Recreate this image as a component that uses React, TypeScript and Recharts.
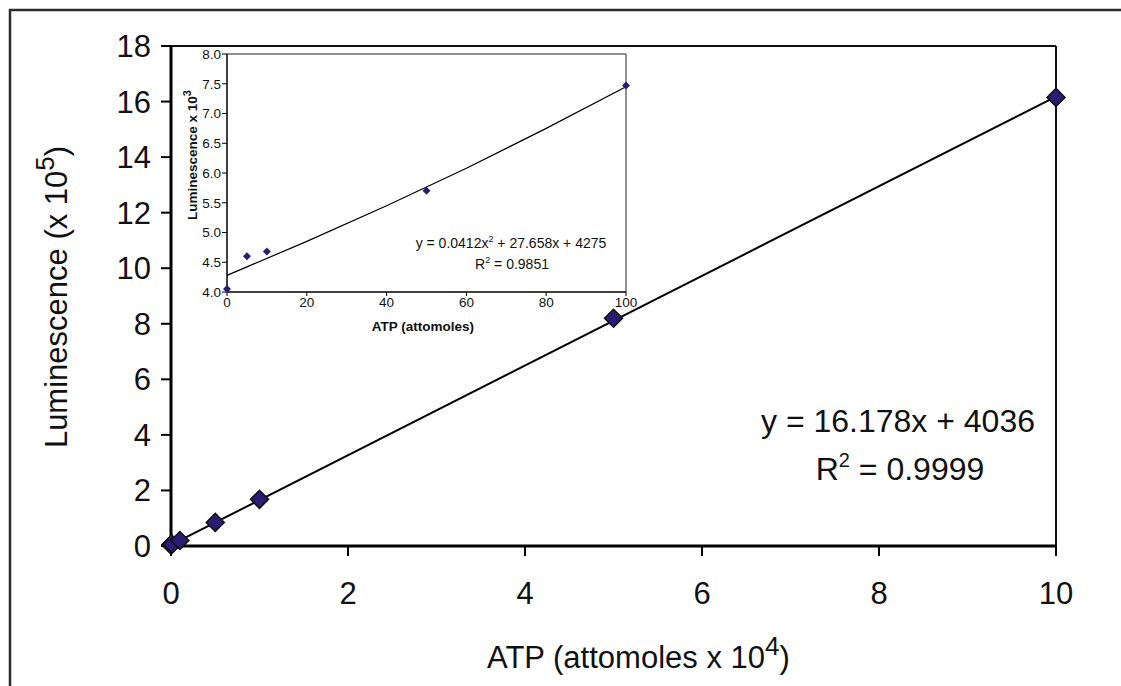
import React from "react";
import { ReferenceLine, Scatter, ScatterChart, XAxis, YAxis } from "recharts";

const FONT = '"Liberation Sans", Arial, sans-serif';
const MARK = "#2a1c72";

// main chart: ATP (attomoles x 10^4) vs luminescence (x 10^5)
const mainX = [0, 0.0005, 0.001, 0.005, 0.01, 0.1, 0.5, 1, 5, 10];
const mainY = [0.04, 0.046, 0.047, 0.057, 0.075, 0.2, 0.85, 1.68, 8.2, 16.15];
const mainTrendX = [0, 10];
const mainTrendY = [0.04, 16.18];
const mainXTicks = [0, 2, 4, 6, 8, 10];
const mainYTicks = [0, 2, 4, 6, 8, 10, 12, 14, 16, 18];

// inset: ATP (attomoles) vs luminescence (x 10^3)
const insetX = [0, 5, 10, 50, 100];
const insetY = [4.05, 4.6, 4.68, 5.7, 7.47];
const insetTrendX = [0, 20, 40, 60, 80, 100];
const insetTrendY = [4.28, 4.85, 5.45, 6.08, 6.75, 7.45];
const insetXTicks = [0, 20, 40, 60, 80, 100];
const insetYTicks = [4.0, 4.5, 5.0, 5.5, 6.0, 6.5, 7.0, 7.5, 8.0];

const zip = (xs: number[], ys: number[]) => xs.map((x, i) => ({ x, y: ys[i] }));

const mainData = zip(mainX, mainY);
const mainTrend = zip(mainTrendX, mainTrendY);
const insetData = zip(insetX, insetY);
const insetTrend = zip(insetTrendX, insetTrendY);

const diamond = (r: number, stroke?: string) => (props: any) => {
  const { cx, cy } = props;
  if (cx == null || cy == null) return <g />;
  return (
    <path
      d={`M${cx},${cy - r}L${cx + r},${cy}L${cx},${cy + r}L${cx - r},${cy}Z`}
      fill={MARK}
      stroke={stroke ?? "none"}
      strokeWidth={stroke ? 1.5 : 0}
    />
  );
};

const noDot = () => <g />;

export default function App() {
  return (
    <div style={{ position: "absolute", left: 0, top: 0, width: 1121, height: 686, background: "#fff", fontFamily: FONT }}>
      <div style={{ position: "absolute", left: 0, top: 0 }}>
        <ScatterChart width={1121} height={686} margin={{ top: 46, right: 65, bottom: 80, left: 71 }}>
          <XAxis
            type="number"
            dataKey="x"
            domain={[0, 10]}
            ticks={mainXTicks}
            height={60}
            tickSize={10}
            tickMargin={26}
            axisLine={{ stroke: "#000", strokeWidth: 3 }}
            tickLine={{ stroke: "#000", strokeWidth: 2 }}
            tick={{ fontSize: 31, fill: "#111", fontFamily: FONT }}
          />
          <YAxis
            type="number"
            dataKey="y"
            domain={[0, 18]}
            ticks={mainYTicks}
            width={100}
            tickSize={10}
            tickMargin={10}
            axisLine={{ stroke: "#000", strokeWidth: 3 }}
            tickLine={{ stroke: "#000", strokeWidth: 2 }}
            tick={{ fontSize: 31, fill: "#111", fontFamily: FONT }}
          />
          <ReferenceLine x={10} stroke="#111" strokeWidth={2} />
          <ReferenceLine y={18} stroke="#111" strokeWidth={2} />
          <Scatter data={mainTrend} line={{ stroke: "#000", strokeWidth: 2 }} shape={noDot} isAnimationActive={false} />
          <Scatter data={mainData} shape={diamond(9, "#111")} isAnimationActive={false} />
        </ScatterChart>
      </div>

      <div style={{ position: "absolute", left: 160, top: 40 }}>
        <ScatterChart width={480} height={300} margin={{ top: 14, right: 14, bottom: 28, left: 27 }}>
          <XAxis
            type="number"
            dataKey="x"
            domain={[0, 100]}
            ticks={insetXTicks}
            height={20}
            tickSize={4}
            tickMargin={1}
            axisLine={{ stroke: "#000", strokeWidth: 1.5 }}
            tickLine={{ stroke: "#000" }}
            tick={{ fontSize: 13.5, fill: "#111", fontFamily: FONT }}
          />
          <YAxis
            type="number"
            dataKey="y"
            domain={[4, 8]}
            ticks={insetYTicks}
            tickFormatter={(v: number) => v.toFixed(1)}
            width={40}
            tickSize={5}
            tickMargin={1}
            axisLine={{ stroke: "#000", strokeWidth: 1.5 }}
            tickLine={{ stroke: "#000" }}
            tick={{ fontSize: 13.5, fill: "#111", fontFamily: FONT }}
          />
          <ReferenceLine x={100} stroke="#222" strokeWidth={1} />
          <ReferenceLine y={8} stroke="#222" strokeWidth={1} />
          <Scatter data={insetTrend} line={{ stroke: "#000", strokeWidth: 1.2 }} shape={noDot} isAnimationActive={false} />
          <Scatter data={insetData} shape={diamond(4)} isAnimationActive={false} />
        </ScatterChart>
      </div>

      <svg width={1121} height={686} style={{ position: "absolute", left: 0, top: 0, pointerEvents: "none" }} fontFamily={FONT}>
        <path d="M10,686V10H1121" fill="none" stroke="#2b2b2b" strokeWidth={2.5} />

        {/* main axis titles */}
        <text x={487} y={668} fontSize={31} fill="#111">
          ATP (attomoles x 10<tspan dy={-13} fontSize={26}>4</tspan>
          <tspan dy={13} fontSize={31}>)</tspan>
        </text>
        <text transform="translate(67,297) rotate(-90)" textAnchor="middle" fontSize={31} fill="#111">
          Luminescence (x 10<tspan dy={-13} fontSize={26}>5</tspan>
          <tspan dy={13} fontSize={31}>)</tspan>
        </text>

        {/* main fit */}
        <text x={898} y={432} textAnchor="middle" fontSize={32} fill="#111">y = 16.178x + 4036</text>
        <text x={900} y={480} textAnchor="middle" fontSize={32} fill="#111">
          R<tspan dy={-13} fontSize={20}>2</tspan>
          <tspan dy={13}> = 0.9999</tspan>
        </text>

        {/* inset titles */}
        <text x={423} y={331} textAnchor="middle" fontSize={13.5} fontWeight="bold" fill="#111">ATP (attomoles)</text>
        <text transform="translate(197,155) rotate(-90)" textAnchor="middle" fontSize={13.5} fontWeight="bold" fill="#111">
          Luminescence x 10<tspan dy={-6} fontSize={11}>3</tspan>
        </text>

        {/* inset fit */}
        <text x={511} y={248} textAnchor="middle" fontSize={14} fill="#111">
          y = 0.0412x<tspan dy={-6} fontSize={9}>2</tspan>
          <tspan dy={6}> + 27.658x + 4275</tspan>
        </text>
        <text x={512} y={269} textAnchor="middle" fontSize={14} fill="#111">
          R<tspan dy={-6} fontSize={9}>2</tspan>
          <tspan dy={6}> = 0.9851</tspan>
        </text>
      </svg>
    </div>
  );
}
